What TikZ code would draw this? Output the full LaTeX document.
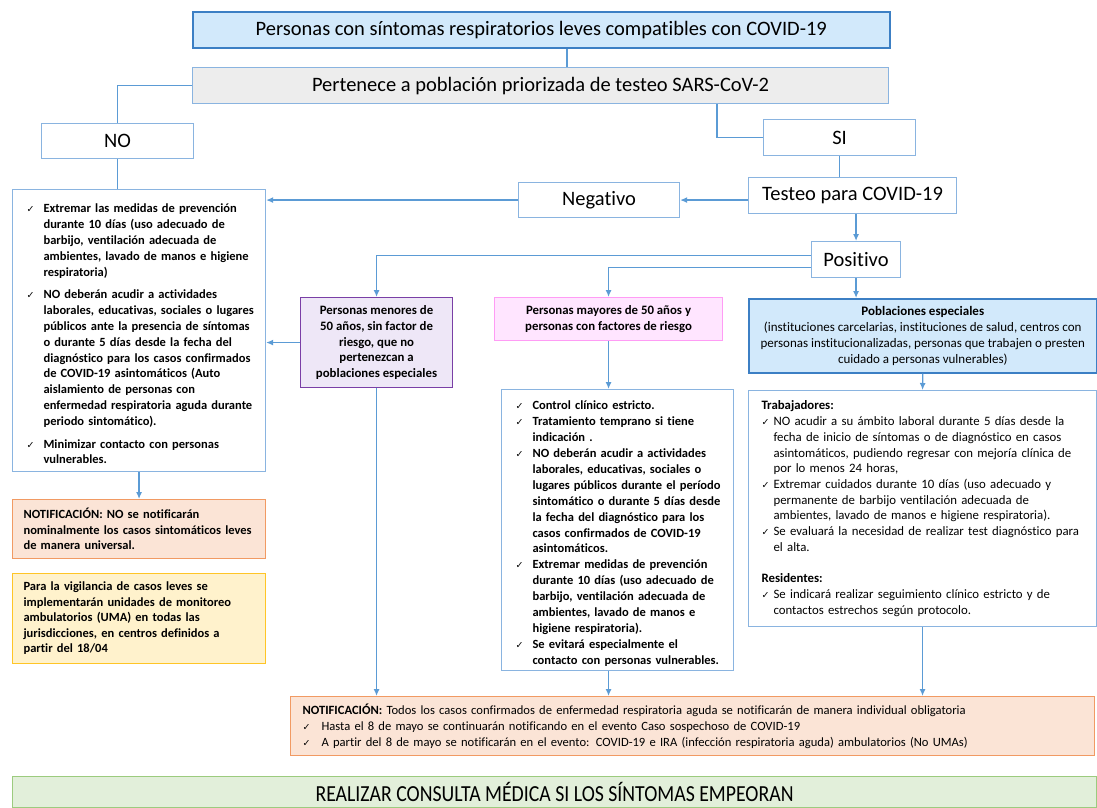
\documentclass[tikz,border=0pt]{standalone}
\usepackage{fontspec}
\setmainfont{Carlito}[RawFeature={-liga;-clig;-calt}]
\newfontfamily\symfont{DejaVu Sans}
\newfontfamily\narrowfont{Carlito}[FakeStretch=0.86]
\usetikzlibrary{arrows.meta,calc}

\definecolor{lineblue}{HTML}{5B9BD5}
\definecolor{boxblue}{HTML}{8AB4E0}
\definecolor{darkblue}{HTML}{3C7FC4}
\definecolor{titlefill}{HTML}{D2E9FB}
\definecolor{greyfill}{HTML}{EDEDED}
\definecolor{lilacfill}{HTML}{EEE7F7}
\definecolor{lilacline}{HTML}{7A3FA6}
\definecolor{pinkfill}{HTML}{FFE5FF}
\definecolor{pinkline}{HTML}{FF9CF5}
\definecolor{peachfill}{HTML}{FBE4D6}
\definecolor{peachline}{HTML}{F19A63}
\definecolor{creamfill}{HTML}{FFF2CC}
\definecolor{creamline}{HTML}{FFC526}
\definecolor{mintfill}{HTML}{E2EFDA}
\definecolor{mintline}{HTML}{9CCB7E}

\newcommand{\chk}{{\symfont\mdseries\fontsize{9.5}{9.5}\selectfont ✓}}
% checked list: #1 = left margin, #2 = space between items
\newenvironment{chklist}[2]{\begin{list}{\chk}{\setlength{\leftmargin}{#1}%
  \setlength{\rightmargin}{-14pt}%
  \setlength{\labelsep}{3pt}\setlength{\labelwidth}{\dimexpr#1-3pt\relax}%
  \setlength{\itemsep}{#2}\setlength{\parsep}{0pt}\setlength{\topsep}{0pt}%
  \setlength{\partopsep}{0pt}\renewcommand{\makelabel}[1]{##1\hfil}}}{\end{list}}

\tikzset{
  box/.style={draw=boxblue, line width=1.1pt, inner sep=0pt, anchor=north west,
    font=\fontsize{20.5}{24}\selectfont},
  notebox/.style={box, align=left, inner xsep=14pt, inner ysep=0pt},
  link/.style={draw=lineblue, line width=1.3pt},
}

\begin{document}
\begin{tikzpicture}[x=1pt, y=-1pt, >={Latex[length=7pt,width=6pt]}]
\useasboundingbox (0,0) rectangle (1097,807);

% top of the chart
\node[box, fill=titlefill, draw=darkblue, line width=1.6pt, minimum width=697pt, minimum height=36pt] (sintomas) at (192,11)
  {Personas con síntomas respiratorios leves compatibles con COVID-19};
\node[box, fill=greyfill, minimum width=696pt, minimum height=36pt] (prioridad) at (192,67)
  {Pertenece a población priorizada de testeo SARS-CoV-2};
\node[box, fill=white, minimum width=152pt, minimum height=35pt] (no) at (41,123) {NO};
\node[box, fill=white, minimum width=152pt, minimum height=36pt] (si) at (763,119) {SI};
\node[box, fill=white, minimum width=208pt, minimum height=36pt] (testeo) at (748,177) {Testeo para COVID-19};
\node[box, fill=white, minimum width=161pt, minimum height=35pt] (negativo) at (518,182) {Negativo};
\node[box, fill=white, minimum width=89pt, minimum height=36pt] (positivo) at (811,241) {Positivo};

% left column
\node[notebox, font=\bfseries\fontsize{12.5}{15.8}\selectfont, text width=225pt, minimum height=282pt] (medidas) at (12,189) {%
\begin{chklist}{17pt}{7pt}
\item Extremar las medidas de prevención\newline durante 10 días (uso adecuado de\newline barbijo, ventilación adecuada de\newline ambientes, lavado de manos e higiene\newline respiratoria)
\item NO deberán acudir a actividades\newline laborales, educativas, sociales o lugares\newline públicos ante la presencia de síntomas\newline o durante 5 días desde la fecha del\newline diagnóstico para los casos confirmados\newline de COVID-19 asintomáticos (Auto\newline aislamiento de personas con\newline enfermedad respiratoria aguda durante\newline periodo sintomático).
\item Minimizar contacto con personas\newline vulnerables.
\end{chklist}};
\node[notebox, fill=peachfill, draw=peachline, inner xsep=11pt, text width=231pt, minimum height=59pt,
  font=\bfseries\fontsize{12.5}{15.5}\selectfont] (avisono) at (12,499)
  {NOTIFICACIÓN: NO se notificarán\\nominalmente los casos sintomáticos leves\\de manera universal.};
\node[notebox, fill=creamfill, draw=creamline, inner xsep=11pt, text width=231pt, minimum height=90pt,
  font=\bfseries\fontsize{12.5}{15.5}\selectfont] (uma) at (12,573)
  {Para la vigilancia de casos leves se\\implementarán unidades de monitoreo\\ambulatorios (UMA) en todas las\\jurisdicciones, en centros definidos a\\partir del 18/04};

% positive branch
\node[box, fill=lilacfill, draw=lilacline, align=center, minimum width=152pt, minimum height=90pt,
  font=\bfseries\fontsize{12.8}{15.6}\selectfont] (menores) at (300,297)
  {Personas menores de\\50 años, sin factor de\\riesgo, que no\\pertenezcan a\\poblaciones especiales};
\node[box, fill=pinkfill, draw=pinkline, align=center, minimum width=228pt, minimum height=43pt,
  font=\bfseries\fontsize{12.8}{15.6}\selectfont] (mayores) at (494,297)
  {Personas mayores de 50 años y\\personas con factores de riesgo};
\node[box, fill=titlefill, draw=darkblue, line width=1.6pt, align=center, minimum width=348pt, minimum height=74pt,
  font=\fontsize{13}{15.8}\selectfont] (especiales) at (748,298)
  {\textbf{Poblaciones especiales}\\(instituciones carcelarias, instituciones de salud, centros con\\personas institucionalizadas, personas que trabajen o presten\\cuidado a personas vulnerables)};

\node[notebox, font=\bfseries\fontsize{12.5}{15.9}\selectfont, text width=204pt, minimum height=281pt] (cuidados) at (501,389) {%
\begin{chklist}{17pt}{0pt}
\item Control clínico estricto.
\item Tratamiento temprano si tiene\newline indicación .
\item NO deberán acudir a actividades\newline laborales, educativas, sociales o\newline lugares públicos durante el período\newline sintomático o durante 5 días desde\newline la fecha del diagnóstico para los\newline casos confirmados de COVID-19\newline asintomáticos.
\item Extremar medidas de prevención\newline durante 10 días (uso adecuado de\newline barbijo, ventilación adecuada de\newline ambientes, lavado de manos e\newline higiene respiratoria).
\item Se evitará especialmente el\newline contacto con personas vulnerables.
\end{chklist}};

\node[notebox, font=\fontsize{12.8}{15.7}\selectfont, inner xsep=13pt, text width=322pt, minimum height=236pt] (trabajo) at (748,390) {%
\textbf{Trabajadores:}\par
\begin{chklist}{12pt}{0pt}
\item NO acudir a su ámbito laboral durante 5 días desde la\newline fecha de inicio de síntomas o de diagnóstico en casos\newline asintomáticos, pudiendo regresar con mejoría clínica de\newline por lo menos 24 horas,
\item Extremar cuidados durante 10 días (uso adecuado y\newline permanente de barbijo ventilación adecuada de\newline ambientes, lavado de manos e higiene respiratoria).
\item Se evaluará la necesidad de realizar test diagnóstico para\newline el alta.
\end{chklist}
\vspace{15.7pt}
\textbf{Residentes:}\par
\begin{chklist}{12pt}{0pt}
\item Se indicará realizar seguimiento clínico estricto y de\newline contactos estrechos según protocolo.
\end{chklist}};

% bottom
\node[notebox, fill=peachfill, draw=peachline, inner xsep=12pt, text width=780pt, minimum height=59pt,
  font=\fontsize{12.6}{16}\selectfont] (avisotodos) at (290,696) {%
\textbf{NOTIFICACIÓN:} Todos los casos confirmados de enfermedad respiratoria aguda se notificarán de manera individual obligatoria\par
\begin{chklist}{19pt}{0pt}
\item Hasta el 8 de mayo se continuarán notificando en el evento Caso sospechoso de COVID-19
\item A partir del 8 de mayo se notificarán en el evento: COVID-19 e IRA (infección respiratoria aguda) ambulatorios (No UMAs)
\end{chklist}};
\node[box, fill=mintfill, draw=mintline, minimum width=1084pt, minimum height=31pt,
  font=\narrowfont\fontsize{23}{25}\selectfont] (consulta) at (12,776)
  {REALIZAR CONSULTA MÉDICA SI LOS SÍNTOMAS EMPEORAN};

% connectors
\coordinate (c1) at (567,0);
\coordinate (c2) at (717,0);
\draw[link] (sintomas.south -| c1) -- (prioridad.north -| c1);
\draw[link] (prioridad.west) -| (no.north);
\draw[link] (prioridad.south -| c2) |- (si.west);
\draw[link] (si.south) -- (si.south |- testeo.north);
\draw[link] (no.south) -- (no.south |- medidas.north);
\draw[link,->] (testeo.west |- negativo.east) -- (negativo.east);
\draw[link,->] (negativo.west) -- (negativo.west -| medidas.east);
\draw[link,->] (testeo.south -| positivo.north) -- (positivo.north);
\draw[link,->] ([yshift=4pt]positivo.west) -| (menores.north);
\draw[link,->] ([yshift=-8pt]positivo.west) -| (mayores.north);
\draw[link,->] (positivo.south) -- (positivo.south |- especiales.north);
\draw[link,->] (menores.west) -- (menores.west -| medidas.east);
\draw[link,->] (medidas.south) -- (avisono.north);
\draw[link,->] (mayores.south) -- (mayores.south |- cuidados.north);
\draw[link,->] (especiales.south) -- (trabajo.north);
\draw[link,->] (menores.south) -- (menores.south |- avisotodos.north);
\draw[link,->] (mayores.south |- cuidados.south) -- (mayores.south |- avisotodos.north);
\draw[link,->] (trabajo.south) -- (trabajo.south |- avisotodos.north);
\end{tikzpicture}
\end{document}
